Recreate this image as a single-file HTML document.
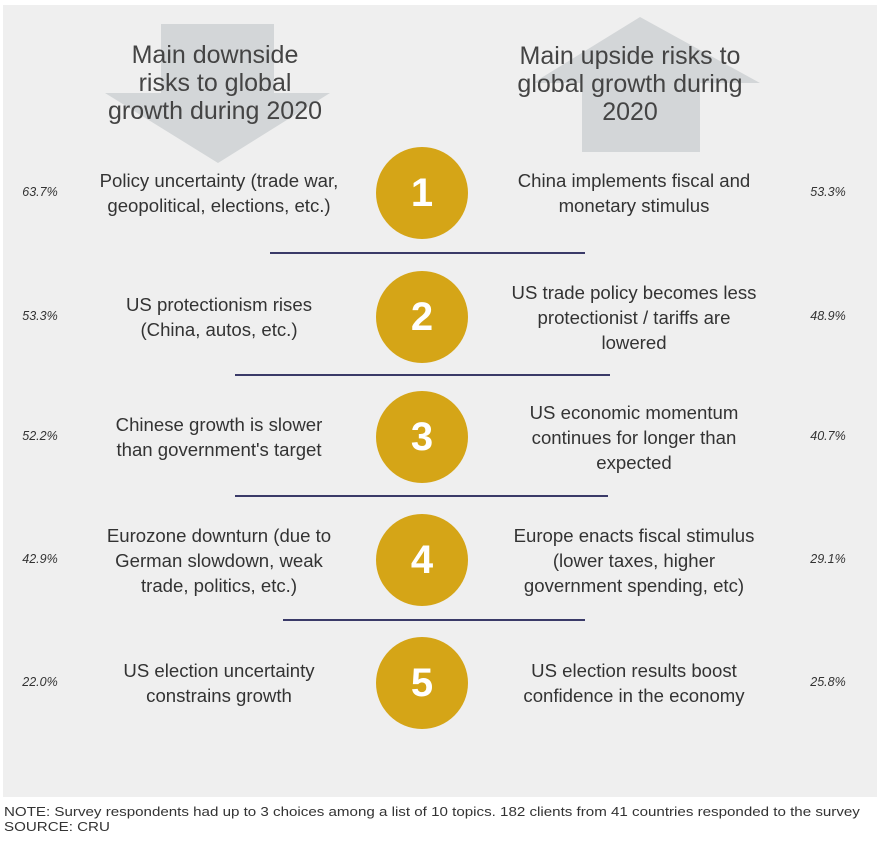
<!DOCTYPE html>
<html><head><meta charset="utf-8"><style>
body{margin:0;width:883px;height:842px;background:#fff;font-family:"Liberation Sans",sans-serif;position:relative;overflow:hidden}
.abs{position:absolute}
.t{position:absolute;font-size:18.6px;color:#333;text-align:center;line-height:25px;width:340px}
.p{position:absolute;font-size:12.5px;font-style:italic;color:#333;width:60px;text-align:center}
.title{position:absolute;font-size:25px;color:#444;text-align:center;line-height:28px;width:340px}
.c{position:absolute;width:92px;height:92px;border-radius:50%;background:#d5a517;color:#fff;font-weight:bold;font-size:40px;text-align:center;line-height:92px}
.l{position:absolute;height:2px;background:#3a3a68}
.f{position:absolute;left:4px;font-size:12.5px;color:#333;transform:scaleX(1.21);transform-origin:0 0;white-space:nowrap}
</style></head><body>
<div class="abs" style="left:3px;top:5px;width:874px;height:792px;background:#efefef"></div>
<svg class="abs" style="left:0;top:0" width="883" height="842">
<polygon fill="#d3d6d8" points="161,24 274,24 274,93 330,93 218,163 105,93 161,93"/>
<polygon fill="#d3d6d8" points="640,17 760,83 700,83 700,152 582,152 582,83 533,83"/>
</svg>
<div class="title" style="left:45px;top:41px">Main downside<br>risks to global<br>growth during 2020</div>
<div class="title" style="left:460px;top:42px">Main upside risks to<br>global growth during<br>2020</div>
<div id="rows"></div>
<div class="f" style="top:805px">NOTE: Survey respondents had up to 3 choices among a list of 10 topics. 182 clients from 41 countries responded to the survey</div>
<div class="f" style="top:820px">SOURCE: CRU</div>
<script>
const ranks=["1","2","3","4","5"];
const downside=["Policy uncertainty (trade war,<br>geopolitical, elections, etc.)","US protectionism rises<br>(China, autos, etc.)","Chinese growth is slower<br>than government's target","Eurozone downturn (due to<br>German slowdown, weak<br>trade, politics, etc.)","US election uncertainty<br>constrains growth"];
const downsidePct=["63.7%","53.3%","52.2%","42.9%","22.0%"];
const upside=["China implements fiscal and<br>monetary stimulus","US trade policy becomes less<br>protectionist / tariffs are<br>lowered","US economic momentum<br>continues for longer than<br>expected","Europe enacts fiscal stimulus<br>(lower taxes, higher<br>government spending, etc)","US election results boost<br>confidence in the economy"];
const upsidePct=["53.3%","48.9%","40.7%","29.1%","25.8%"];
const centers=[193,317,437,560,683];
const seps=[[270,585,253],[235,610,375],[235,608,496],[283,585,620]];
const root=document.getElementById('rows');
function lines(s){return s.split('<br>').length;}
ranks.forEach((r,i)=>{
  const cy=centers[i];
  const c=document.createElement('div');c.className='c';c.style.left='376px';c.style.top=(cy-46)+'px';c.textContent=r;
  
  
  root.appendChild(c);
  const d=document.createElement('div');d.className='t';d.style.left='49px';d.style.top=(cy-lines(downside[i])*12.5)+'px';d.innerHTML=downside[i];
  
  
  root.appendChild(d);
  const u=document.createElement('div');u.className='t';u.style.left='464px';u.style.top=(cy-lines(upside[i])*12.5)+'px';u.innerHTML=upside[i];
  
  
  root.appendChild(u);
  const p=document.createElement('div');p.className='p';p.style.left='10px';p.style.top=(cy-8)+'px';p.textContent=downsidePct[i];
  
  
  root.appendChild(p);
  const q=document.createElement('div');q.className='p';q.style.left='798px';q.style.top=(cy-8)+'px';q.textContent=upsidePct[i];
  
  
  root.appendChild(q);
});
seps.forEach((s,i)=>{
  const l=document.createElement('div');l.className='l';l.style.left=s[0]+'px';l.style.width=(s[1]-s[0])+'px';l.style.top=(s[2]-1)+'px';
  
  
  root.appendChild(l);
});
</script>
</body></html>
